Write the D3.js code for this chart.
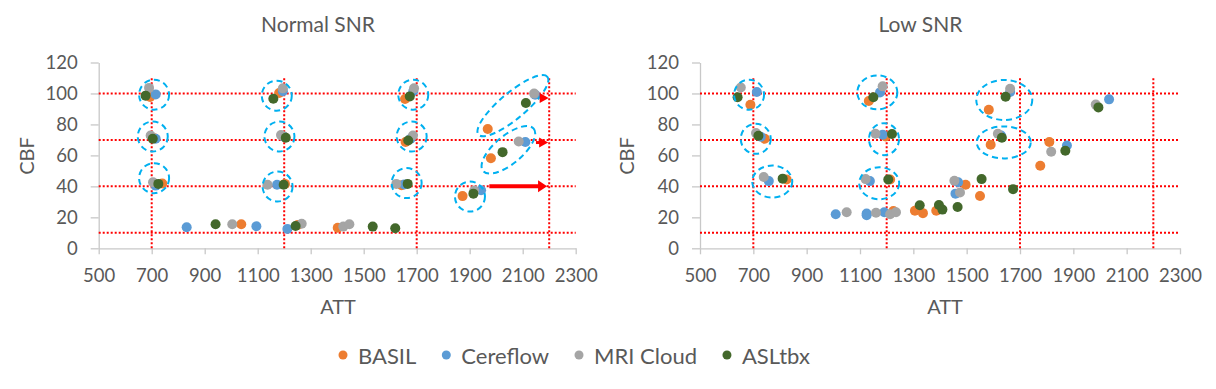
<!DOCTYPE html>
<meta charset="utf-8">
<style>
body { margin: 0; background: #fff; }
text { font-family: Lato, "Open Sans", sans-serif; fill: #595959; }
.axis path, .axis line { stroke: #c8c8c8; stroke-width: 1.3; }
.axis text { font-size: 18px; fill: #595959; }
</style>
<body>
<script src="https://d3js.org/d3.v7.min.js"></script>
<script>

// series names and colours
var series = ["BASIL", "Cereflow", "MRI Cloud", "ASLtbx"];
var colors = ["#ed7d31", "#5b9bd5", "#a5a5a5", "#43682b"];

// Normal SNR - ATT / CBF per method
var normBasilAtt = [694, 710, 740, 1038, 1181, 1200, 1203, 1251, 1402, 1656, 1658, 1643, 1873, 1980, 1968];
var normBasilCbf = [97.7, 71, 41.8, 15.5, 100.3, 72, 41.6, 15.1, 13.3, 96.4, 68.6, 40.8, 33.7, 58.2, 77];
var normCereAtt = [715, 715, 715, 832, 1095, 1195, 1199, 1173, 1212, 1687, 1677, 1653, 1943, 2110, 2147];
var normCereCbf = [99.4, 70.7, 40.5, 13.6, 14.2, 101.5, 72, 41, 12.5, 101.4, 70.7, 41.2, 37.5, 68.6, 99.2];
var normMriAtt = [690, 696, 705, 1004, 1195, 1188, 1137, 1266, 1423, 1446, 1690, 1686, 1623, 1917, 2085, 2143];
var normMriCbf = [103.6, 72.9, 42.7, 15.5, 103.3, 73.1, 41, 15.9, 14, 15.5, 103.3, 72.9, 41.6, 37.3, 69, 99.9];
var normAslAtt = [677, 704, 725, 941, 1159, 1206, 1198, 1243, 1534, 1619, 1674, 1668, 1666, 1914, 2024, 2112];
var normAslCbf = [98.6, 70.7, 41.6, 15.5, 96.6, 71.4, 41, 14.4, 14, 12.9, 98.1, 69.6, 41.6, 35.3, 62.1, 93.8];

// Low SNR - ATT / CBF per method
var lowBasilAtt = [689, 743, 825, 1133, 1196, 1213, 1225, 1306, 1336, 1386, 1496, 1550, 1583, 1590, 1810, 1776];
var lowBasilCbf = [92.7, 70.7, 44.4, 95.1, 72.2, 44.4, 24.1, 24.3, 22.7, 24.3, 41, 33.8, 89.5, 66.9, 68.6, 53.3];
var lowCereAtt = [713, 728, 758, 1009, 1125, 1125, 1191, 1175, 1185, 1137, 1468, 1458, 1663, 1629, 1876, 2034];
var lowCereCbf = [101, 72, 43.4, 22, 22.4, 21.4, 23.3, 100.7, 73.3, 43.4, 42.7, 35.3, 101, 72.9, 66.4, 96.2];
var lowMriAtt = [653, 710, 739, 1050, 1160, 1213, 1235, 1185, 1158, 1121, 1454, 1475, 1663, 1617, 1817, 1984];
var lowMriCbf = [103.9, 74.4, 46, 23.3, 23, 22, 23.3, 104.6, 74, 44.7, 43.6, 36, 103.1, 74, 62.3, 92.8];
var lowAslAtt = [641, 719, 810, 1150, 1220, 1206, 1324, 1396, 1409, 1466, 1556, 1674, 1646, 1632, 1870, 1994];
var lowAslCbf = [97.5, 72.7, 45, 97.5, 73.8, 44.4, 27.8, 28, 25, 26.7, 44.7, 38.2, 97.9, 71.4, 63, 91];

// axis ticks and reference (true) values
var attTicks = [500, 700, 900, 1100, 1300, 1500, 1700, 1900, 2100, 2300];
var cbfTicks = [0, 20, 40, 60, 80, 100, 120];
var trueCbf = [10, 40, 70, 100];
var trueAtt = [700, 1200, 1700, 2200];

// blue dashed rings: [att, cbf, rx px, ry px, rotation]
var normRings = [[709, 99.2, 15, 15, 0], [704, 72.2, 15, 15, 0], [709, 45.3, 15, 15, 0],
  [1172, 98.6, 15, 15, 0], [1182, 72.2, 15, 15, 0], [1175, 39.9, 15, 15, 0],
  [1687, 99.2, 15, 15, 0], [1681, 72.2, 15, 15, 0], [1662, 42.1, 15, 15, 0],
  [1901, 33.4, 15, 15, 0], [2063, 92.1, 45, 13, -40], [2046, 63.6, 33, 14, -40]];
var lowRings = [[684, 99.2, 15, 15, 0], [709, 70.7, 15, 15, 0], [771, 43.1, 20, 16, 0],
  [1165, 100.7, 20, 17, 0], [1190, 70.5, 15, 16, 0], [1172, 42, 20, 16, 0],
  [1641, 95.8, 28, 20, 0], [1639, 68.4, 27, 16, 0]];

// red arrows (normal SNR): [from att, to att, cbf, width]
var normArrows = [[1974, 2192, 40, 4], [2150, 2196, 68.3, 3], [2178, 2198, 97, 3]];

var W = 1216, H = 389;
var svg = d3.select("body").append("svg").attr("width", W).attr("height", H);

var y = d3.scaleLinear().domain([0, 120]).range([248.3, 62.5]);

function panel(opts) {
  var x = d3.scaleLinear().domain([500, 2300]).range(opts.range);
  var g = svg.append("g");

  // axes
  g.append("g").attr("class", "axis")
    .attr("transform", "translate(0," + y(0) + ")")
    .call(d3.axisBottom(x).tickValues(attTicks).tickFormat(d3.format("d"))
      .tickSize(6).tickSizeOuter(0).tickPadding(15));
  g.append("g").attr("class", "axis")
    .attr("transform", "translate(" + x(500) + ",0)")
    .call(d3.axisLeft(y).tickValues(cbfTicks).tickSize(8).tickSizeOuter(0).tickPadding(13));
  g.selectAll(".axis text").style("font-size", "18.5px");

  // red dotted reference lines
  g.selectAll(".hline").data(trueCbf).enter().append("line")
    .attr("x1", x(500)).attr("x2", x(2300))
    .attr("y1", d => y(d)).attr("y2", d => y(d))
    .attr("stroke", "#ff0000").attr("stroke-width", 2).attr("stroke-dasharray", "2,2");
  g.selectAll(".vline").data(trueAtt).enter().append("line")
    .attr("x1", d => x(d)).attr("x2", d => x(d))
    .attr("y1", y(0)).attr("y2", y(110))
    .attr("stroke", "#ff0000").attr("stroke-width", 2).attr("stroke-dasharray", "2,2");

  // points, one group per method
  opts.data.forEach(function(s, i) {
    var pts = s[0].map((a, j) => [a, s[1][j]]);
    g.append("g").selectAll("circle").data(pts).enter().append("circle")
      .attr("cx", d => x(d[0])).attr("cy", d => y(d[1]))
      .attr("r", 5).attr("fill", colors[i]);
  });

  // dashed rings
  g.selectAll(".ring").data(opts.rings).enter().append("ellipse")
    .attr("transform", d => "translate(" + x(d[0]) + "," + y(d[1]) + ") rotate(" + d[4] + ")")
    .attr("rx", d => d[2]).attr("ry", d => d[3])
    .attr("fill", "none").attr("stroke", "#00b0f0").attr("stroke-width", 2)
    .attr("stroke-dasharray", "6,4");

  // arrows
  (opts.arrows || []).forEach(function(a) {
    var x1 = x(a[0]), x2 = x(a[1]), yy = y(a[2]), w = a[3];
    g.append("line").attr("x1", x1).attr("x2", x2 - 7).attr("y1", yy).attr("y2", yy)
      .attr("stroke", "#ff0000").attr("stroke-width", w);
    g.append("path")
      .attr("d", "M" + (x2 - 9) + "," + (yy - w - 2) + "L" + x2 + "," + yy + "L" + (x2 - 9) + "," + (yy + w + 2) + "Z")
      .attr("fill", "#ff0000");
  });

  // titles
  g.append("text").attr("x", opts.titleX).attr("y", 31.7).attr("text-anchor", "middle")
    .style("font-size", "21px").text(opts.title);
  g.append("text").attr("transform", "translate(" + opts.cbfX + ",156) rotate(-90)")
    .attr("text-anchor", "middle").attr("dy", "0.35em")
    .style("font-size", "20px").text("CBF");
  g.append("text").attr("x", opts.attX).attr("y", 314).attr("text-anchor", "middle")
    .style("font-size", "20px").text("ATT");
}

panel({
  range: [98.7, 575.7], title: "Normal SNR", titleX: 318, cbfX: 27, attX: 338,
  data: [[normBasilAtt, normBasilCbf], [normCereAtt, normCereCbf], [normMriAtt, normMriCbf], [normAslAtt, normAslCbf]],
  rings: normRings, arrows: normArrows
});
panel({
  range: [700, 1180], title: "Low SNR", titleX: 920.5, cbfX: 627, attX: 945,
  data: [[lowBasilAtt, lowBasilCbf], [lowCereAtt, lowCereCbf], [lowMriAtt, lowMriCbf], [lowAslAtt, lowAslCbf]],
  rings: lowRings
});

// legend
var lx = 343;
var legend = svg.append("g");
series.forEach(function(name, i) {
  legend.append("circle").attr("cx", lx).attr("cy", 355).attr("r", 4.5).attr("fill", colors[i]);
  var t = legend.append("text").attr("x", lx + 15).attr("y", 364)
    .style("font-size", "22px").text(name);
  lx += 15 + t.node().getComputedTextLength() + 30;
});

</script>
</body>
